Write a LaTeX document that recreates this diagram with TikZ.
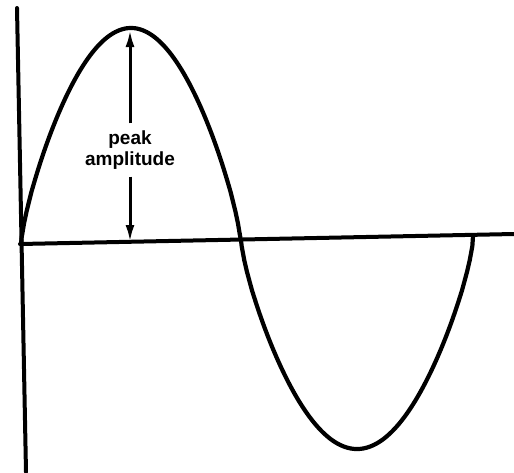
\documentclass[tikz,border=0pt]{standalone}
\usepackage{fontspec}
\setmainfont{Liberation Sans}
\usetikzlibrary{positioning,arrows.meta}
\tikzset{
  axis/.style={line width=4pt, line cap=round},
  wave/.style={line width=4.2pt, line join=round},
  arr/.style={-{Latex[length=17pt,width=9pt]}, line width=3pt},
  lab/.style={font=\fontsize{19pt}{21pt}\selectfont\bfseries, align=center, inner sep=1pt},
}
\begin{document}
\begin{tikzpicture}[x=1pt, y=-1pt]
  \useasboundingbox (0,0) rectangle (514,472);
  % axes
  \draw[axis] (17,8) -- (26,472);
  \draw[axis] (20,244) -- (514,234);
  % one period of the wave (rounded crest and trough)
  \draw[wave] (21,244)
    -- plot[domain=0.5:179.5, samples=90] ({21+\x/180*220}, {244-216*pow(sin(\x),0.75)})
    -- (241,240)
    -- plot[domain=0.5:179.5, samples=90] ({241+\x/180*232}, {240+209*pow(sin(\x),0.75)})
    -- (473,236);
  % peak marker
  \coordinate (peak) at (130,30);
  \coordinate (base) at (130,242);
  \node[lab] (amp) at (130,150) {peak\\amplitude};
  \draw[arr] (amp.north) ++(0,-6) -- (peak);
  \draw[arr] (amp.south) ++(0,6) -- (base);
\end{tikzpicture}
\end{document}
